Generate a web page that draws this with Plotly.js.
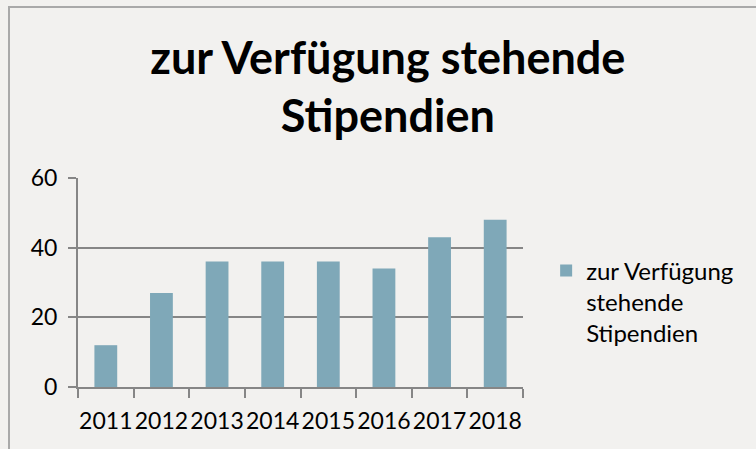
<!DOCTYPE html>
<html>
<head>
<meta charset="utf-8">
<script src="https://cdn.plot.ly/plotly-3.0.1.min.js"></script>
<style>
  html, body { margin: 0; padding: 0; background: #f2f1ef; overflow: hidden; }
  #chart { width: 756px; height: 449px; position: absolute; left: 0; top: 0; }
  #frame { position: absolute; left: 8px; top: 6px; width: 800px; height: 500px;
           border-left: 2px solid #a9a9a9; border-top: 2px solid #a9a9a9; pointer-events: none; }
</style>
</head>
<body>
<div id="chart"></div>
<div id="frame"></div>
<script>
const categories = ["2011", "2012", "2013", "2014", "2015", "2016", "2017", "2018"];
const values = [12, 27, 36, 36, 36, 34, 43, 48];
const seriesName = "zur Verfügung<br>stehende<br>Stipendien";
const titleText = "zur Verfügung stehende<br>Stipendien";
const yTicks = [0, 20, 40, 60];

const FONT = "Lato, 'Open Sans', sans-serif";

const trace = {
  type: "bar",
  x: categories,
  y: values,
  name: seriesName,
  marker: { color: "#7fa8b8", line: { width: 0 } },
  showlegend: true,
  hoverinfo: "x+y"
};

const layout = {
  width: 756,
  height: 449,
  paper_bgcolor: "#f2f1ef",
  plot_bgcolor: "#f2f1ef",
  margin: { l: 78, r: 233, t: 178, b: 62, pad: 0 },
  font: { family: FONT, color: "#000000" },
  title: {
    text: titleText,
    font: { family: FONT, size: 45, color: "#000000", weight: "bold" },
    x: 0.513, xanchor: "center", xref: "container",
    y: 0.836, yanchor: "middle", yref: "container"
  },
  bargap: 0.59,
  xaxis: {
    type: "category",
    showline: true,
    linecolor: "#868686",
    linewidth: 2,
    ticks: "outside",
    tickson: "boundaries",
    ticklen: 9,
    tickwidth: 2,
    tickcolor: "#868686",
    tickangle: 0,
    ticklabelstandoff: 12,
    tickfont: { family: FONT, size: 23, color: "#000000" },
    showgrid: false,
    zeroline: false,
    fixedrange: true
  },
  yaxis: {
    range: [0, 60],
    tickvals: yTicks,
    ticktext: yTicks.map(String),
    showline: true,
    linecolor: "#868686",
    linewidth: 2,
    ticks: "outside",
    ticklen: 8,
    tickwidth: 2,
    tickcolor: "#868686",
    showgrid: true,
    gridcolor: "#868686",
    gridwidth: 2,
    zeroline: false,
    tickfont: { family: FONT, size: 23, color: "#000000" },
    ticklabelstandoff: 6,
    fixedrange: true
  },
  legend: {
    x: 1.052, xanchor: "left",
    y: 0.663, yanchor: "top",
    valign: "top",
    bgcolor: "rgba(0,0,0,0)",
    font: { family: FONT, size: 24, color: "#000000" },
    itemwidth: 30,
    tracegroupgap: 0
  }
};

Plotly.newPlot("chart", [trace], layout, { displayModeBar: false, staticPlot: true });
</script>
</body>
</html>
